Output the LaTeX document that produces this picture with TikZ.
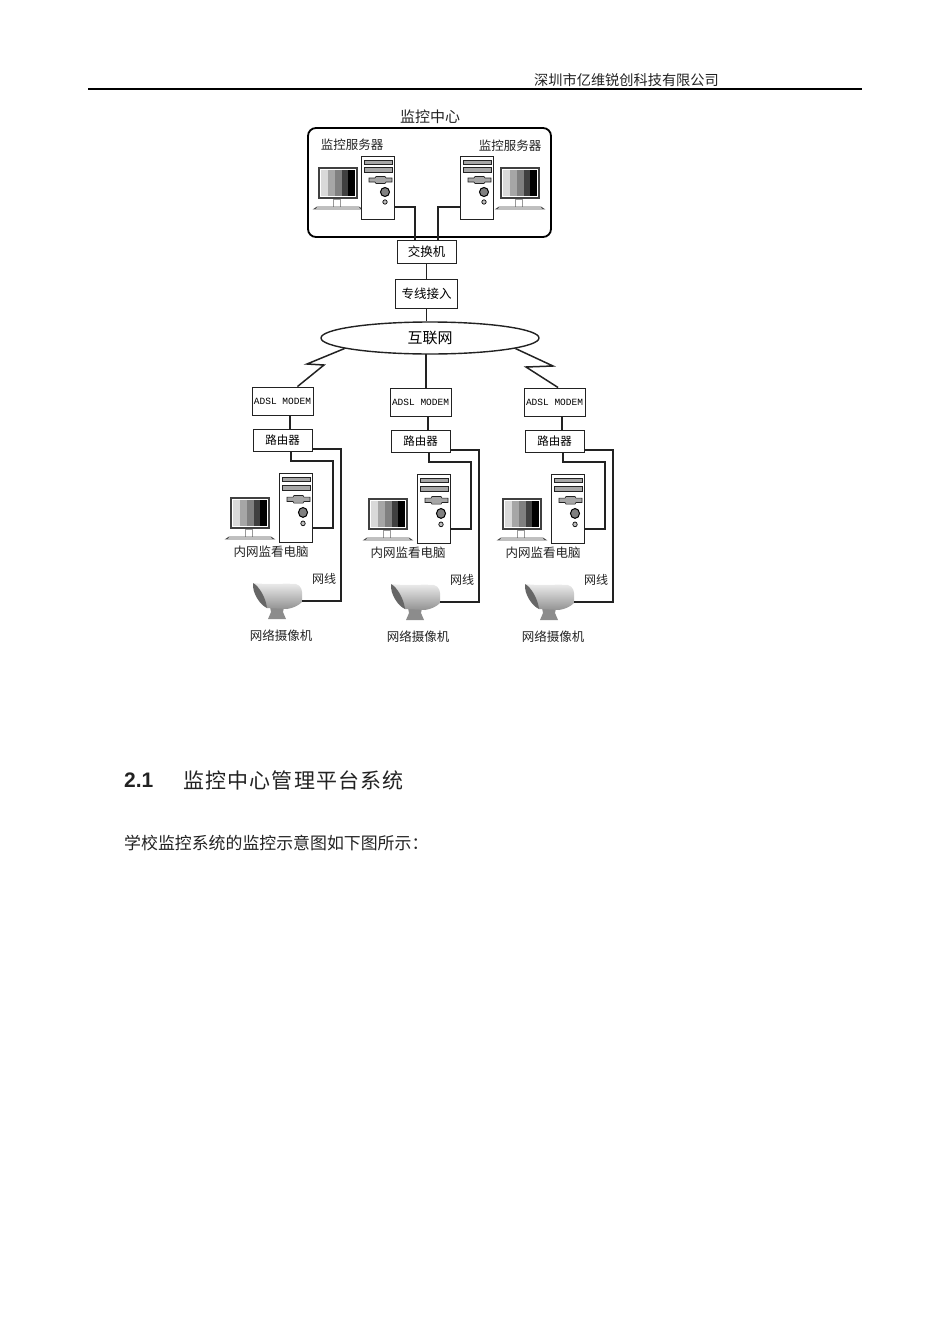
\documentclass[tikz,border=0pt]{standalone}
\usepackage{fontspec}
\usetikzlibrary{shapes.geometric}
\setmainfont{Noto Sans CJK SC}
\newfontfamily\cjkwide[LetterSpace=5.7]{Noto Sans CJK SC}
\newfontfamily\numfont{Liberation Sans}
\newfontfamily\modemfont{Liberation Mono}
\definecolor{wirecol}{HTML}{222222}
\tikzset{
  wire/.style={color=wirecol,line width=1.5pt},
  netbox/.style={draw=wirecol,line width=.9pt,fill=white,inner sep=0pt,font=\fontsize{12.5}{13}\selectfont},
  modembox/.style={netbox,minimum width=61,minimum height=28,font=\fontsize{9.5}{10}\modemfont},
  routerbox/.style={netbox,minimum width=59,minimum height=22,font=\fontsize{11.5}{12}\selectfont},
  tag/.style={inner sep=0pt,text=wirecol,font=\fontsize{12.5}{13}\selectfont},
  pagetext/.style={inner sep=0pt,anchor=west,text=wirecol},
  towerbody/.style={draw=wirecol,line width=.9pt,fill=white,inner sep=0pt,minimum width=33},
  pics/towerpc/.style={code={
    \node[towerbody,minimum height=#1] (-body) at (0,0) {};
    \begin{scope}[shift={(-16.5,-#1/2)},yscale=#1/63]
      \draw[fill=gray!70,draw=wirecol,line width=.6pt] (3,4) rectangle (31,8) (3,11) rectangle (31,16);
      \draw[fill=gray!70,draw=wirecol,line width=.6pt] (8,22)--(14,22)--(15,20.5)--(24,20.5)--(25,22)--(31,22)--(31,26)--(25,26)--(24,27.5)--(15,27.5)--(14,26)--(8,26)--cycle;
      \draw[fill=gray,draw=black,line width=1pt] (24,36) circle (4.5);
      \draw[fill=gray!50,draw=black,line width=.7pt] (24,46) circle (2.2);
    \end{scope}
  }},
  pics/screenpc/.style={code={
    \draw[fill=white,draw=gray!80,line width=.7pt] (14,31) rectangle (21,39);
    \draw[fill=white,draw=black!70,line width=.8pt] (-5,41)--(-2,39)--(40,39)--(43,41)--cycle;
    \draw[fill=white,draw=black!75,line width=2pt] (0,0) rectangle (38,30);
    \foreach \xa/\xb/\tone in {2/9/15,9/16/35,16/23/50,23/29/75,29/36/100}
      \fill[black!\tone] (\xa,2) rectangle (\xb,28);
  }},
  pics/netcam/.style={code={
    \fill[gray!90] (17,24)--(31,24)--(30,29)--(33,36)--(15,36)--(18,29)--cycle;
    \shade[top color=gray!15,bottom color=gray!85]
      (0,0) .. controls (15,2) and (30,0) .. (43,1) .. controls (48,2) and (50,8) .. (49,14)
      -- (49,19) .. controls (45,23) and (40,25) .. (34,26) -- (14,25) -- cycle;
    \fill[black!60] (0,0) .. controls (6,3) and (13,15) .. (14,25) .. controls (7,22) and (-1,10) .. (0,0);
    \coordinate (-port) at (49,18);
  }}
}
\begin{document}
\begin{tikzpicture}[x=1pt,y=-1pt]
\useasboundingbox (0,0) rectangle (950,1344);

\node[pagetext,font=\fontsize{14.2}{15}\selectfont] (header) at (534,80) {深圳市亿维锐创科技有限公司};
\coordinate (rulel) at (88,89);
\coordinate (ruler) at (862,89);
\draw[color=black,line width=1.7pt] (rulel) -- (ruler);

\node[tag,font=\fontsize{15}{16}\selectfont] (title) at (430,117) {监控中心};
\node[draw=black,line width=1.8pt,rounded corners=8pt,minimum width=243,minimum height=109,inner sep=0pt] (centerbox) at (429.5,182.5) {};
\node[tag] (srvltxt) at (352,145) {监控服务器};
\node[tag] (srvrtxt) at (510,146) {监控服务器};

\pic at (319,168) {screenpc};
\pic (srvl) at (377.5,187.5) {towerpc=63};
\pic at (501,168) {screenpc};
\pic (srvr) at (476.5,187.5) {towerpc=63};

\node[netbox,minimum width=59,minimum height=23] (switch) at (426.5,251.5) {交换机};
\node[netbox,minimum width=62,minimum height=29] (leased) at (426.5,293.5) {专线接入};
\node[draw=wirecol,line width=1.4pt,ellipse,fill=white,minimum width=218,minimum height=32,inner sep=0pt,font=\fontsize{15}{16}\selectfont] (net) at (430,338) {互联网};

\draw[wire] ([yshift=-19.5]srvl-body.east) -| ([xshift=-11.5]switch.north);
\draw[wire] ([yshift=-19.5]srvr-body.west) -| ([xshift=11.5]switch.north);
\draw[wire] (switch.south) -- (leased.north);
\draw[wire] (leased.south) -- (leased.south |- net.north);

\foreach \b/\dx/\dy/\tx in {a/0/0/0,b/138/1/137,c/272/1/272}{
  \node[modembox] (\b-modem) at (\dx+282.5,\dy+401) {ADSL MODEM};
  \node[routerbox] (\b-router) at (\dx+282.5,\dy+440) {路由器};
  \pic at (\dx+231,\dy+498) {screenpc};
  \pic (\b-tower) at (\dx+295.5,\dy+507.5) {towerpc=69};
  \pic (\b-cam) at (\dx+253,\dy+583) {netcam};
  \node[tag] (\b-pctxt) at (\tx+271,\dy+552) {内网监看电脑};
  \node[tag,font=\fontsize{12}{13}\selectfont] (\b-wiretxt) at (\dx+324,\dy+579) {网线};
  \node[tag] (\b-camtxt) at (\tx+281,\dy+636) {网络摄像机};
  \coordinate (\b-turn) at (\dx+333,\dy+461);
  \coordinate (\b-bus) at (\dx+341,\dy+601);
  \draw[wire] ([xshift=7.5]\b-modem.south) -- ([xshift=7.5]\b-router.north);
  \draw[wire] ([xshift=8.5]\b-router.south) |- (\b-turn) |- ([yshift=-20.5]\b-tower-body.east);
  \draw[wire] ([yshift=-9]\b-router.east) -| (\b-bus) -- (\b-cam-port);
}

\coordinate (boltla) at (307,364);
\coordinate (boltlb) at (324,365);
\coordinate (boltra) at (553,366);
\coordinate (boltrb) at (526,367);
\coordinate (netdrop) at (426,354);
\draw[wire] (net.187) -- (boltla) -- (boltlb) -- (a-modem.44);
\draw[wire] (netdrop) -- (netdrop |- b-modem.north);
\draw[wire] (net.-7) -- (boltra) -- (boltrb) -- (c-modem.76);

\node[pagetext,font=\fontsize{21}{22}\bfseries\numfont] (secnum) at (124,780) {2.1};
\node[pagetext,font=\fontsize{21}{22}\cjkwide] (sectxt) at (183,780) {监控中心管理平台系统};
\node[pagetext,font=\fontsize{16.9}{17}\selectfont] (bodytxt) at (124,843) {学校监控系统的监控示意图如下图所示：};

\end{tikzpicture}
\end{document}
